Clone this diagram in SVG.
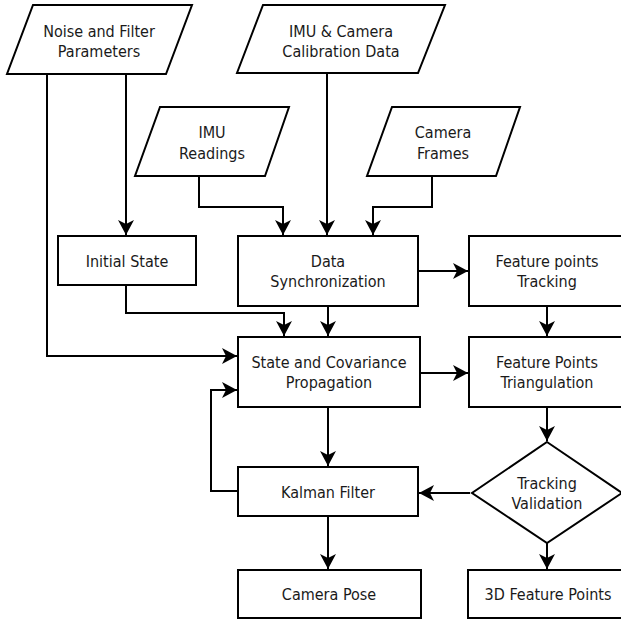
<svg xmlns="http://www.w3.org/2000/svg" width="621" height="622" viewBox="0 0 621 622">
<style>
.s{fill:#fff;stroke:#000;stroke-width:2}
.t{font-family:"DejaVu Sans Condensed","DejaVu Sans",sans-serif;font-stretch:condensed;font-size:16px;fill:#1a1a1a;text-anchor:middle}
.c{fill:none;stroke:#000;stroke-width:2}
</style>
<defs>
<marker id="a" markerUnits="userSpaceOnUse" markerWidth="18" markerHeight="18" viewBox="0 0 18 18" refX="16" refY="9" orient="auto">
<path d="M1,1 L16,9 L1,17 L5,9 Z" fill="#000"/>
</marker>
</defs>
<rect width="621" height="622" fill="#fff"/>
<g id="connectors">
<path class="c" d="M47,74 V356 H237" marker-end="url(#a)"/>
<path class="c" d="M126,74 V235" marker-end="url(#a)"/>
<path class="c" d="M327,73 V235" marker-end="url(#a)"/>
<path class="c" d="M199,176 V207 H283 V235" marker-end="url(#a)"/>
<path class="c" d="M432,176 V207 H373 V235" marker-end="url(#a)"/>
<path class="c" d="M126,285 V313 H284 V336" marker-end="url(#a)"/>
<path class="c" d="M328,306 V336" marker-end="url(#a)"/>
<path class="c" d="M418,271 H468" marker-end="url(#a)"/>
<path class="c" d="M547,306 V336" marker-end="url(#a)"/>
<path class="c" d="M420,373 H468" marker-end="url(#a)"/>
<path class="c" d="M328,407 V466" marker-end="url(#a)"/>
<path class="c" d="M547,407 V441" marker-end="url(#a)"/>
<path class="c" d="M470,493 H419" marker-end="url(#a)"/>
<path class="c" d="M238,491 H211 V390 H237" marker-end="url(#a)"/>
<path class="c" d="M328,516 V569" marker-end="url(#a)"/>
<path class="c" d="M547,543 V569" marker-end="url(#a)"/>
</g>
<g id="noise">
<path class="s" d="M33,5 H192 L166,74 H7 Z"/>
<text class="t" x="99" y="37">Noise and Filter</text>
<text class="t" x="99" y="57">Parameters</text>
</g>
<g id="calib">
<path class="s" d="M263,5 H445 L418,73 H237 Z"/>
<text class="t" x="341" y="37">IMU &amp; Camera</text>
<text class="t" x="341" y="57">Calibration Data</text>
</g>
<g id="imu">
<path class="s" d="M160,107 H289 L265,176 H135 Z"/>
<text class="t" x="212" y="138">IMU</text>
<text class="t" x="212" y="159">Readings</text>
</g>
<g id="camera">
<path class="s" d="M392,107 H520 L496,176 H367 Z"/>
<text class="t" x="443" y="138">Camera</text>
<text class="t" x="443" y="159">Frames</text>
</g>
<g id="initial">
<rect class="s" x="58" y="236" width="138" height="49"/>
<text class="t" x="127" y="267">Initial State</text>
</g>
<g id="sync">
<rect class="s" x="238" y="236" width="180" height="70"/>
<text class="t" x="328" y="267">Data</text>
<text class="t" x="328" y="287">Synchronization</text>
</g>
<g id="tracking">
<rect class="s" x="469" y="236" width="160" height="70"/>
<text class="t" x="547" y="267">Feature points</text>
<text class="t" x="547" y="287">Tracking</text>
</g>
<g id="propagation">
<rect class="s" x="238" y="337" width="182" height="70"/>
<text class="t" x="329" y="368">State and Covariance</text>
<text class="t" x="329" y="388">Propagation</text>
</g>
<g id="triangulation">
<rect class="s" x="469" y="337" width="160" height="70"/>
<text class="t" x="547" y="368">Feature Points</text>
<text class="t" x="547" y="388">Triangulation</text>
</g>
<g id="kalman">
<rect class="s" x="238" y="467" width="180" height="49"/>
<text class="t" x="328" y="498">Kalman Filter</text>
</g>
<g id="validation">
<path class="s" d="M547,442 L622,493 L547,543 L472,493 Z"/>
<text class="t" x="547" y="489">Tracking</text>
<text class="t" x="547" y="509">Validation</text>
</g>
<g id="pose">
<rect class="s" x="238" y="570" width="183" height="48"/>
<text class="t" x="329" y="600">Camera Pose</text>
</g>
<g id="points3d">
<rect class="s" x="468" y="570" width="160" height="48"/>
<text class="t" x="548" y="600">3D Feature Points</text>
</g>
</svg>
